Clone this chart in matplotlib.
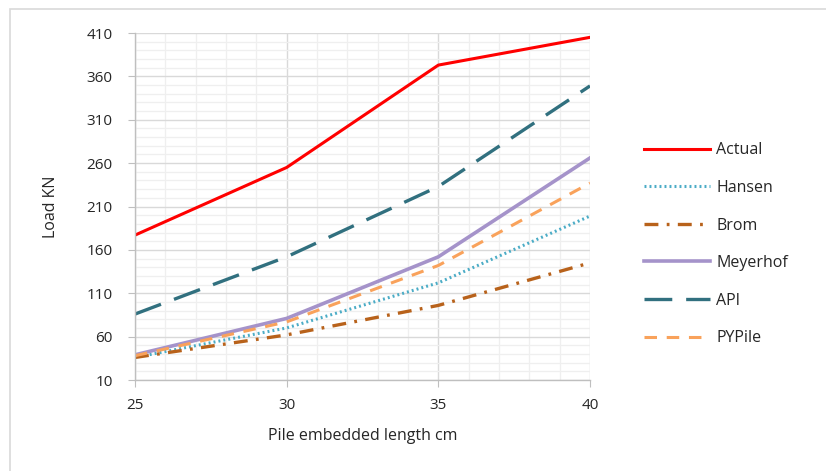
import matplotlib
matplotlib.use("Agg")
import matplotlib.pyplot as plt
from matplotlib.ticker import MultipleLocator
from matplotlib.patches import Rectangle

plt.rcParams['font.family'] = ['Open Sans', 'DejaVu Sans']
plt.rcParams['lines.scale_dashes'] = False

# pile embedded length (cm) and load (kN) for each method
length = [25, 30, 35, 40]
actual = [177, 255, 373, 405]
hansen = [36, 70, 122, 199]
brom = [36, 62, 96, 145]
meyerhof = [39, 81, 152, 266]
api = [86, 152, 233, 349]
pypile = [38, 77, 142, 237]

fig = plt.figure(figsize=(8.26, 4.71), dpi=100)
# light frame around the chart area
fig.patches.append(Rectangle((10 / 826, -0.1), 1.0, 1 - 9 / 471 + 0.1,
                             transform=fig.transFigure, fill=False,
                             edgecolor='#D9D9D9', linewidth=1.2))

ax = fig.add_axes([135 / 826, 1 - 380 / 471, 455 / 826, 347 / 471])

ax.plot(length, actual, color='#FF0000', lw=2.2, label='Actual')
ax.plot(length, hansen, color='#4BACC6', lw=2.2, dashes=(1.4, 2.2), label='Hansen')
ax.plot(length, brom, color='#B8621B', lw=2.4, dashes=(10, 6, 2, 6), label='Brom')
ax.plot(length, meyerhof, color='#A593CA', lw=2.6, label='Meyerhof')
ax.plot(length, api, color='#31707F', lw=2.4, dashes=(20, 10), label='API')
ax.plot(length, pypile, color='#F9A25B', lw=2.2, dashes=(9, 7), label='PYPile')

ax.set_xlim(25, 40)
ax.set_ylim(10, 410)
ax.xaxis.set_major_locator(MultipleLocator(5))
ax.xaxis.set_minor_locator(MultipleLocator(1))
ax.set_yticks(range(10, 411, 50))
ax.yaxis.set_minor_locator(MultipleLocator(10))

ax.grid(which='major', color='#D9D9D9', lw=1.0)
ax.grid(which='minor', color='#EFEFEF', lw=0.9)
ax.set_axisbelow(True)

for s in ['top', 'right']:
    ax.spines[s].set_visible(False)
for s in ['left', 'bottom']:
    ax.spines[s].set_color('#BFBFBF')
    ax.spines[s].set_linewidth(1.0)
ax.tick_params(which='major', length=5, color='#BFBFBF', labelsize=11,
               labelcolor='#262626')
ax.tick_params(which='minor', length=0)
ax.tick_params(axis='y', pad=11)
ax.tick_params(axis='x', pad=8)

ax.set_xlabel('Pile embedded length cm', fontsize=11.5, color='#262626', labelpad=11)
ax.set_ylabel('Load KN', fontsize=11.5, color='#262626', labelpad=20)

ax.legend(loc='upper left', bbox_to_anchor=(630 / 826, 1 - 128 / 471),
          bbox_transform=fig.transFigure, frameon=False, fontsize=11.5,
          handlelength=4.1, labelspacing=1.35, handletextpad=0.4,
          labelcolor='#262626')

fig.savefig('out.png', dpi=100, facecolor='white')
